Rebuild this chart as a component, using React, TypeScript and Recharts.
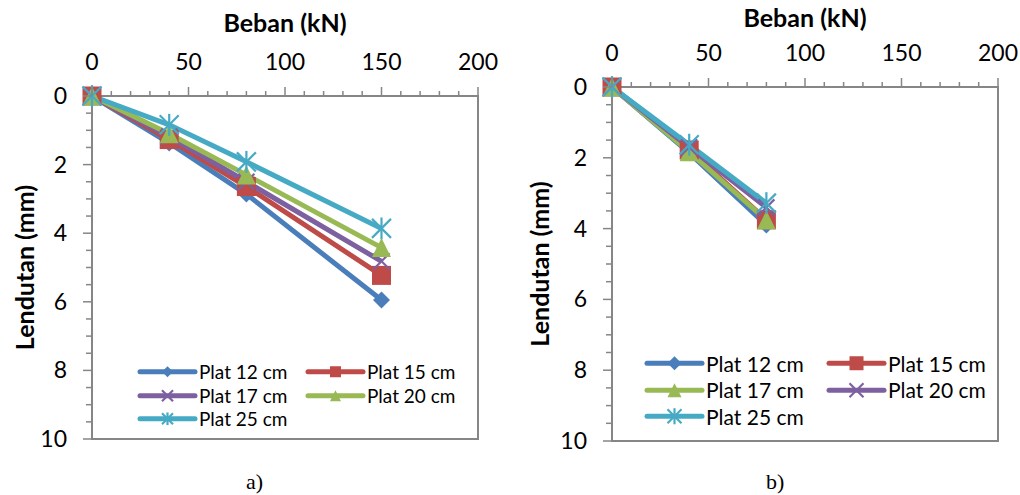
import React from 'react';
import { LineChart, Line, XAxis, YAxis, ReferenceArea, Legend } from 'recharts';

// ---------- data ----------
const loadA = [0, 40, 80, 150];
const plat12A = [0, 1.37, 2.86, 5.95];
const plat15A = [0, 1.27, 2.64, 5.23];
const plat17A = [0, 1.18, 2.5, 4.82];
const plat20A = [0, 1.1, 2.3, 4.42];
const plat25A = [0, 0.84, 1.92, 3.86];

const loadB = [0, 40, 80];
const plat12B = [0, 1.86, 3.9];
const plat15B = [0, 1.78, 3.75];
const plat17B = [0, 1.83, 3.76];
const plat20B = [0, 1.7, 3.4];
const plat25B = [0, 1.63, 3.28];

const seriesNames = ['Plat 12 cm', 'Plat 15 cm', 'Plat 17 cm', 'Plat 20 cm', 'Plat 25 cm'];

const xMajorTicks = [0, 50, 100, 150, 200];
const xAllTicks = [0, 10, 20, 30, 40, 50, 60, 70, 80, 90, 100, 110, 120, 130, 140, 150, 160, 170, 180, 190, 200];
const yMajorTicks = [0, 2, 4, 6, 8, 10];
const yAllTicks = [0, 0.5, 1, 1.5, 2, 2.5, 3, 3.5, 4, 4.5, 5, 5.5, 6, 6.5, 7, 7.5, 8, 8.5, 9, 9.5, 10];

const xTitle = 'Beban (kN)';
const yTitle = 'Lendutan (mm)';

// ---------- styles ----------
const FONT = 'Lato, "Open Sans", sans-serif';
const AXIS = '#868686';
const BLUE = '#4A7EBB';
const RED = '#BE4B48';
const PURPLE = '#7D60A0';
const GREEN = '#98B954';
const CYAN = '#46AAC5';

type Shape = 'diamond' | 'square' | 'triangle' | 'x' | 'star';
type Series = { key: string; name: string; color: string; shape: Shape };

const buildRows = (loads: number[], cols: number[][]) =>
  loads.map((x, i) => ({ x, s0: cols[0][i], s1: cols[1][i], s2: cols[2][i], s3: cols[3][i], s4: cols[4][i] }));

const dataA = buildRows(loadA, [plat12A, plat15A, plat17A, plat20A, plat25A]);
const dataB = buildRows(loadB, [plat12B, plat15B, plat17B, plat20B, plat25B]);

const seriesA: Series[] = [
  { key: 's0', name: seriesNames[0], color: BLUE, shape: 'diamond' },
  { key: 's1', name: seriesNames[1], color: RED, shape: 'square' },
  { key: 's2', name: seriesNames[2], color: PURPLE, shape: 'x' },
  { key: 's3', name: seriesNames[3], color: GREEN, shape: 'triangle' },
  { key: 's4', name: seriesNames[4], color: CYAN, shape: 'star' },
];
const seriesB: Series[] = [
  { key: 's0', name: seriesNames[0], color: BLUE, shape: 'diamond' },
  { key: 's1', name: seriesNames[1], color: RED, shape: 'square' },
  { key: 's2', name: seriesNames[2], color: GREEN, shape: 'triangle' },
  { key: 's3', name: seriesNames[3], color: PURPLE, shape: 'x' },
  { key: 's4', name: seriesNames[4], color: CYAN, shape: 'star' },
];

function Marker({ cx, cy, shape, color, size }: { cx: number; cy: number; shape: Shape; color: string; size: number }) {
  const r = size / 2;
  switch (shape) {
    case 'diamond':
      return <polygon points={`${cx},${cy - r} ${cx + r},${cy} ${cx},${cy + r} ${cx - r},${cy}`} fill={color} />;
    case 'square':
      return <rect x={cx - r} y={cy - r} width={size} height={size} fill={color} />;
    case 'triangle':
      return <polygon points={`${cx},${cy - r} ${cx + r},${cy + r} ${cx - r},${cy + r}`} fill={color} />;
    case 'x':
      return (
        <g stroke={color} strokeWidth={2.2}>
          <line x1={cx - r} y1={cy - r} x2={cx + r} y2={cy + r} />
          <line x1={cx - r} y1={cy + r} x2={cx + r} y2={cy - r} />
        </g>
      );
    case 'star':
    default:
      return (
        <g stroke={color} strokeWidth={2.2}>
          <line x1={cx - r} y1={cy - r} x2={cx + r} y2={cy + r} />
          <line x1={cx - r} y1={cy + r} x2={cx + r} y2={cy - r} />
          <line x1={cx} y1={cy - r * 1.15} x2={cx} y2={cy + r * 1.15} />
        </g>
      );
  }
}

const markerSizeA: Record<Shape, number> = { diamond: 17, square: 19, triangle: 19, x: 16, star: 19 };
const markerSizeB: Record<Shape, number> = { diamond: 17, square: 19, triangle: 19, x: 16, star: 19 };

const TICK_FONT = 23;

const XTick = (props: any) => {
  const { x, y, payload } = props;
  const major = xMajorTicks.includes(payload.value);
  return (
    <g>
      <line x1={x} x2={x} y1={y} y2={y - (major ? 9 : 5)} stroke={AXIS} strokeWidth={1.5} />
      {major && (
        <text x={x} y={y - 26} textAnchor="middle" fontSize={TICK_FONT} fontFamily={FONT} fill="#000">
          {payload.value}
        </text>
      )}
    </g>
  );
};

const YTick = (props: any) => {
  const { x, y, payload } = props;
  const major = yMajorTicks.includes(payload.value);
  return (
    <g>
      <line x1={x - (major ? 9 : 6)} x2={x} y1={y} y2={y} stroke={AXIS} strokeWidth={1.5} />
      {major && (
        <text x={x - 25} y={y} dy={8} textAnchor="end" fontSize={TICK_FONT} fontFamily={FONT} fill="#000">
          {payload.value}
        </text>
      )}
    </g>
  );
};

type Cfg = {
  data: any[];
  series: Series[];
  margin: { top: number; right: number; bottom: number; left: number };
  xAxisHeight: number;
  yAxisWidth: number;
  xTitleBaseline: number;
  yTitleX: number;
  legendLeft: number;
  legendTop: number;
  legendColGap: number;
  legendRowH: number;
  legendFont: number;
  legendMarker: number;
  markerSize: Record<Shape, number>;
};

function LegendBox({ cfg }: { cfg: Cfg }) {
  return (
    <div style={{ position: 'relative', width: 340, height: cfg.legendRowH * 3 }}>
      {cfg.series.map((s, i) => {
        const col = i % 2;
        const row = Math.floor(i / 2);
        return (
          <div
            key={s.key}
            style={{
              position: 'absolute',
              left: col * cfg.legendColGap,
              top: row * cfg.legendRowH,
              height: cfg.legendRowH,
              display: 'flex',
              alignItems: 'center',
              whiteSpace: 'nowrap',
            }}
          >
            <svg width={62} height={cfg.legendRowH} style={{ display: 'block' }}>
              <line x1={3} x2={58} y1={cfg.legendRowH / 2} y2={cfg.legendRowH / 2} stroke={s.color} strokeWidth={5} strokeLinecap="round" />
              <Marker cx={30.5} cy={cfg.legendRowH / 2} shape={s.shape} color={s.color} size={cfg.legendMarker} />
            </svg>
            <span style={{ fontFamily: FONT, fontSize: cfg.legendFont, color: '#000', lineHeight: 1 }}>{s.name}</span>
          </div>
        );
      })}
    </div>
  );
}

function Chart({ cfg }: { cfg: Cfg }) {
  return (
    <LineChart width={510} height={495} data={cfg.data} margin={cfg.margin}>
      <XAxis
        dataKey="x"
        type="number"
        orientation="top"
        domain={[0, 200]}
        ticks={xAllTicks}
        interval={0}
        height={cfg.xAxisHeight}
        tickSize={0}
        tickMargin={0}
        tickLine={false}
        tick={XTick}
        axisLine={{ stroke: AXIS, strokeWidth: 2 }}
        label={{
          content: (p: any) => {
            const vb = p.viewBox || {};
            return (
              <text
                x={(vb.x ?? 0) + (vb.width ?? 0) / 2}
                y={cfg.xTitleBaseline}
                textAnchor="middle"
                fontFamily={FONT}
                fontWeight={700}
                fontSize={25}
                fill="#000"
              >
                {xTitle}
              </text>
            );
          },
        }}
      />
      <YAxis
        type="number"
        reversed
        domain={[0, 10]}
        ticks={yAllTicks}
        interval={0}
        width={cfg.yAxisWidth}
        tickSize={0}
        tickMargin={0}
        tickLine={false}
        tick={YTick}
        axisLine={{ stroke: AXIS, strokeWidth: 2 }}
        label={{
          content: (p: any) => {
            const vb = p.viewBox || {};
            const cy = (vb.y ?? 0) + (vb.height ?? 0) / 2;
            return (
              <text
                transform={`translate(${cfg.yTitleX}, ${cy}) rotate(-90)`}
                textAnchor="middle"
                fontFamily={FONT}
                fontWeight={700}
                fontSize={25}
                fill="#000"
              >
                {yTitle}
              </text>
            );
          },
        }}
      />
      <ReferenceArea x1={0} x2={200} y1={0} y2={10} fill="none" stroke={AXIS} strokeWidth={2} fillOpacity={0} />
      {cfg.series.map((s) => (
        <Line
          key={s.key}
          dataKey={s.key}
          name={s.name}
          stroke={s.color}
          strokeWidth={5}
          isAnimationActive={false}
          dot={(p: any) => (
            <Marker key={`${s.key}-${p.index}`} cx={p.cx} cy={p.cy} shape={s.shape} color={s.color} size={cfg.markerSize[s.shape]} />
          )}
          activeDot={false}
        />
      ))}
      <Legend
        layout="horizontal"
        verticalAlign="middle"
        align="center"
        wrapperStyle={{ position: 'absolute', left: cfg.legendLeft, top: cfg.legendTop, width: 340, height: cfg.legendRowH * 3 }}
        content={() => <LegendBox cfg={cfg} />}
      />
    </LineChart>
  );
}

const cfgA: Cfg = {
  data: dataA,
  series: seriesA,
  margin: { top: 0, right: 32, bottom: 56, left: 0 },
  xAxisHeight: 96,
  yAxisWidth: 92,
  xTitleBaseline: 32,
  yTitleX: 34,
  legendLeft: 137,
  legendTop: 360,
  legendColGap: 168,
  legendRowH: 23.5,
  legendFont: 19,
  legendMarker: 11,
  markerSize: markerSizeA,
};

const cfgB: Cfg = {
  data: dataB,
  series: seriesB,
  margin: { top: 0, right: 22, bottom: 54, left: 0 },
  xAxisHeight: 87,
  yAxisWidth: 102,
  xTitleBaseline: 27,
  yTitleX: 39,
  legendLeft: 134,
  legendTop: 350,
  legendColGap: 182,
  legendRowH: 26.5,
  legendFont: 21,
  legendMarker: 14,
  markerSize: markerSizeB,
};

export default function App() {
  return (
    <div style={{ position: 'absolute', left: 0, top: 0, width: 1020, height: 495, background: '#fff', overflow: 'hidden' }}>
      <div style={{ position: 'absolute', left: 0, top: 0 }}>
        <Chart cfg={cfgA} />
      </div>
      <div style={{ position: 'absolute', left: 510, top: 0 }}>
        <Chart cfg={cfgB} />
      </div>
      <div style={{ position: 'absolute', left: 246, top: 469, fontFamily: '"Liberation Serif", "Times New Roman", serif', fontSize: 22, color: '#000' }}>a)</div>
      <div style={{ position: 'absolute', left: 766, top: 469, fontFamily: '"Liberation Serif", "Times New Roman", serif', fontSize: 22, color: '#000' }}>b)</div>
    </div>
  );
}
